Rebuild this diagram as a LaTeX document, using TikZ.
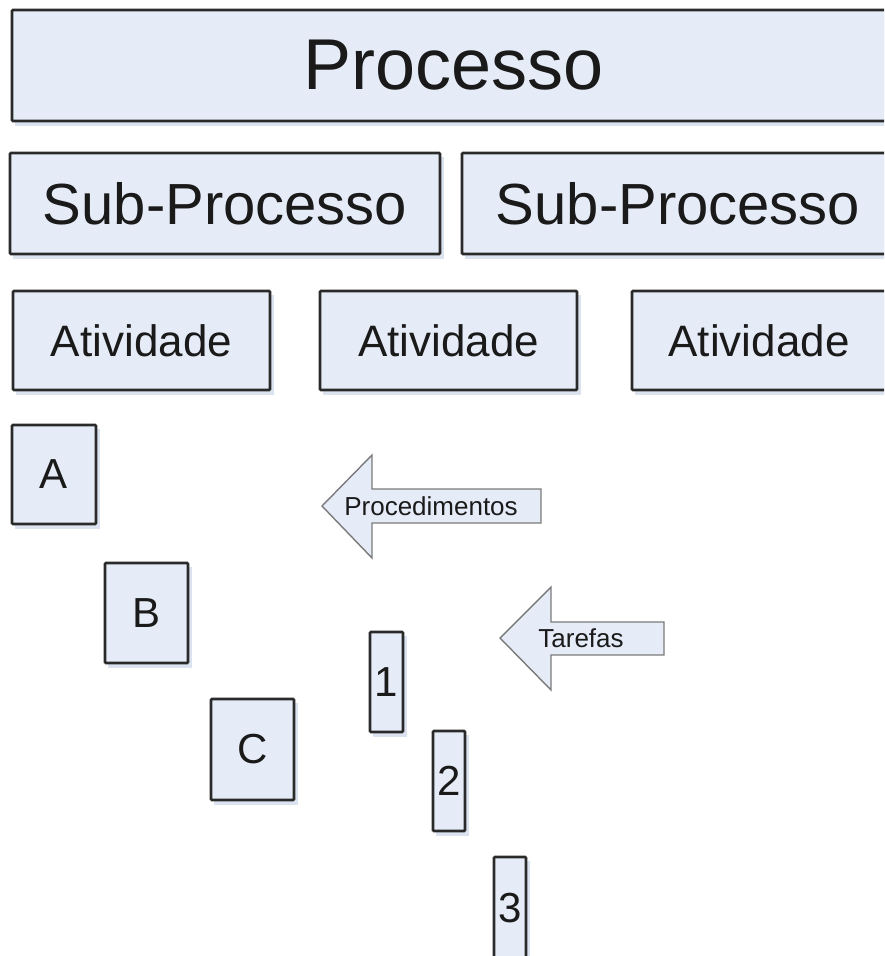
\documentclass[tikz,border=0pt]{standalone}
\usepackage{fontspec}
\setmainfont{Liberation Sans}
\definecolor{boxfill}{HTML}{E6ECF7}
\definecolor{boxline}{HTML}{2A2A2A}
\definecolor{shadowc}{HTML}{DCE3F0}
\definecolor{arrline}{HTML}{7A7A7A}
\definecolor{txt}{HTML}{1A1A1A}
\tikzset{
  box/.style={draw=boxline, fill=boxfill, line width=2.8pt, rounded corners=1pt,
    inner sep=0pt, text=txt, anchor=center},
  shadowbox/.style={fill=shadowc, draw=none},
  bigtxt/.style={font=\fontsize{72}{80}\selectfont},
  subtxt/.style={font=\fontsize{58}{64}\selectfont},
  acttxt/.style={font=\fontsize{44}{50}\selectfont},
  lettxt/.style={font=\fontsize{42}{48}\selectfont},
  arrtxt/.style={font=\fontsize{26}{30}\selectfont, text=txt, inner sep=0pt},
  arrbody/.style={draw=arrline, fill=boxfill, line width=1.4pt, line join=miter},
}
% place a box by its corner coordinates (x1,y1,x2,y2), with a soft shadow
\newcommand{\placebox}[7]{%
  \fill[shadowbox] (#2+3,#3+4) rectangle (#4+4,#5+5);
  \node[box, #7, minimum width=#4-#2, minimum height=#5-#3]
    (#1) at ({(#2+#4)/2},{(#3+#5)/2}) {#6};
}
\begin{document}
\begin{tikzpicture}[x=1pt, y=-1pt]
\useasboundingbox (0,0) rectangle (884,956);
\clip (0,0) rectangle (884,956);

% levels of the hierarchy
\placebox{proc}{12}{10}{895}{121}{Processo}{bigtxt}
\placebox{sub1}{10}{153}{440}{254}{Sub-Processo}{subtxt}
\placebox{sub2}{462}{153}{894}{254}{Sub-Processo}{subtxt}
\placebox{act1}{13}{291}{270}{390}{Atividade}{acttxt}
\placebox{act2}{320}{291}{577}{390}{Atividade}{acttxt}
\placebox{act3}{632}{291}{886}{390}{Atividade}{acttxt}

% procedures
\placebox{pa}{12}{425}{96}{524}{A}{lettxt}
\placebox{pb}{105}{563}{188}{663}{B}{lettxt}
\placebox{pc}{211}{699}{294}{800}{C}{lettxt}

% tasks
\placebox{t1}{370}{632}{403}{732}{1}{lettxt}
\placebox{t2}{433}{731}{465}{831}{2}{lettxt}
\placebox{t3}{494}{857}{526}{960}{3}{lettxt}

% left-pointing block arrows with their labels
\draw[arrbody] (322,506) -- (372,455) -- (372,489) -- (541,489) -- (541,523)
  -- (372,523) -- (372,558) -- cycle;
\node[arrtxt] (lproc) at (431,506) {Procedimentos};

\draw[arrbody] (500,638) -- (551,587) -- (551,622) -- (664,622) -- (664,655)
  -- (551,655) -- (551,690) -- cycle;
\node[arrtxt] (ltaref) at (581,638) {Tarefas};
\end{tikzpicture}
\end{document}
